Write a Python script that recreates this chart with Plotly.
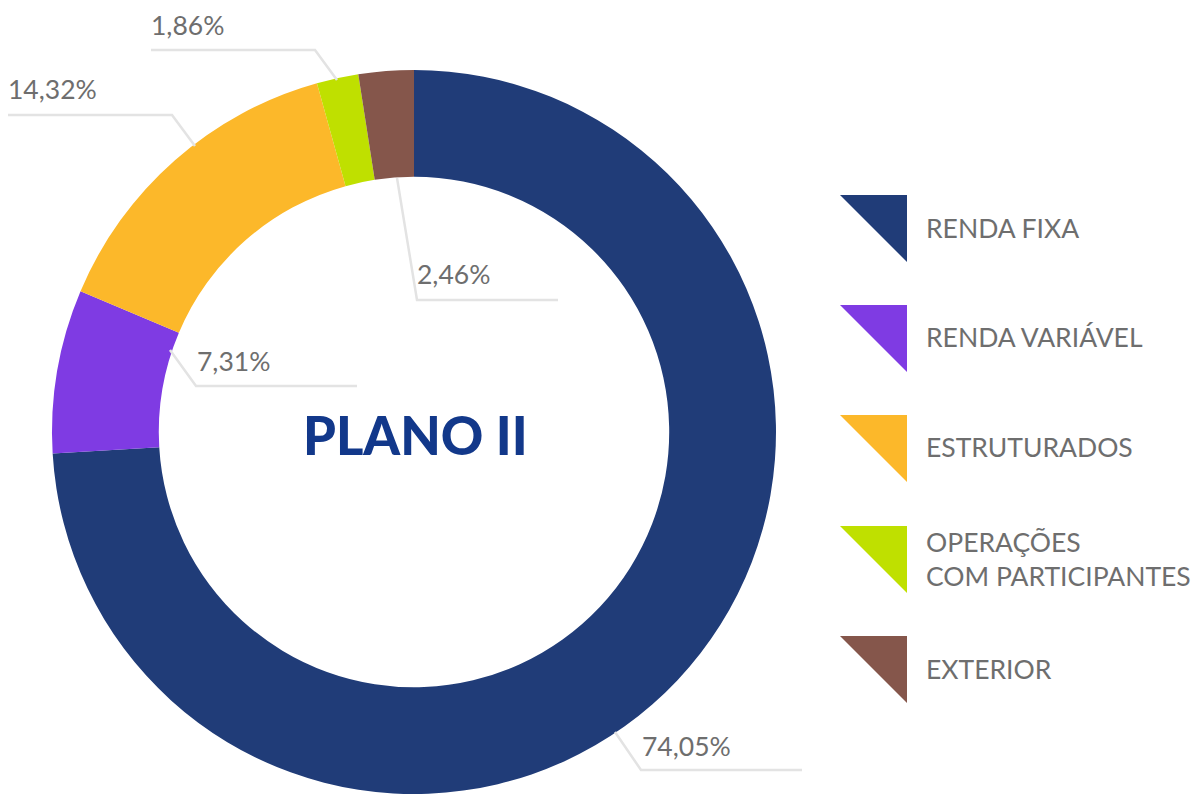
import plotly.graph_objects as go

W, H = 1201, 794

# ---- data ----
categories = ["RENDA FIXA", "RENDA VARIÁVEL", "ESTRUTURADOS", "OPERAÇÕES<br>COM PARTICIPANTES", "EXTERIOR"]
values = [74.05, 7.31, 14.32, 1.86, 2.46]
value_labels = ["74,05%", "7,31%", "14,32%", "1,86%", "2,46%"]
colors = ["#203c78", "#7f3be3", "#fcb82a", "#bfe000", "#85564b"]
center_title = "PLANO II"

# ---- layout helpers (page pixel -> paper); page body has an 8px margin ----
OFF = 8

def px(x):
    return (x - OFF) / W

def py(y):
    return 1 - (y - OFF) / H

cx, cy, R = 414, 432, 362

fig = go.Figure()
fig.add_trace(go.Pie(
    labels=categories,
    values=values,
    hole=0.705,
    sort=False,
    direction="clockwise",
    rotation=0,
    marker=dict(colors=colors, line=dict(width=0)),
    textinfo="none",
    hoverinfo="label+percent",
    showlegend=False,
    domain=dict(x=[px(cx - R), px(cx + R)], y=[py(cy + R), py(cy - R)]),
))

label_font = dict(family="Lato, 'Open Sans', sans-serif", size=26.5, color="#6e6e6e")
line_style = dict(color="#e3e3e3", width=2.5)

# leader lines (pixel paths) and label positions, in the order of values
leaders = [
    [(615, 732), (641, 770), (802, 770)],
    [(170, 350), (196, 386), (357, 386)],
    [(195, 146), (172, 115), (8, 115)],
    [(337, 80), (315, 50), (151, 50)],
    [(397, 178), (417, 300), (558, 300)],
]
label_pos = [(640, 746), (195, 361), (6, 89), (149, 25), (415, 274)]

shapes = []
annotations = []
for pts, (lx, ly), txt in zip(leaders, label_pos, value_labels):
    path = "M " + " L ".join(f"{px(x)},{py(y)}" for x, y in pts)
    shapes.append(dict(type="path", path=path, xref="paper", yref="paper",
                       line=line_style, layer="above"))
    annotations.append(dict(text=txt, x=px(lx), y=py(ly), xref="paper", yref="paper",
                            xanchor="left", yanchor="middle", showarrow=False,
                            font=label_font))

# custom legend with triangle swatches
leg_x0, leg_size = 840, 67
leg_tops = [195, 305, 415, 526, 636]
for top, col, cat in zip(leg_tops, colors, categories):
    path = (f"M {px(leg_x0)},{py(top)} L {px(leg_x0 + leg_size)},{py(top)} "
            f"L {px(leg_x0 + leg_size)},{py(top + leg_size)} Z")
    shapes.append(dict(type="path", path=path, xref="paper", yref="paper",
                       fillcolor=col, line=dict(width=0)))
    annotations.append(dict(text=cat, x=px(924), y=py(top + leg_size / 2 - 1),
                            xref="paper", yref="paper", xanchor="left", yanchor="middle",
                            align="left", showarrow=False, font=label_font))

annotations.append(dict(text=center_title, x=px(415), y=py(435), xref="paper", yref="paper",
                        xanchor="center", yanchor="middle", showarrow=False,
                        font=dict(family="Lato, 'Open Sans', sans-serif", size=52.5,
                                  color="#12388a", weight=900)))

fig.update_layout(
    width=W, height=H,
    margin=dict(l=0, r=0, t=0, b=0),
    paper_bgcolor="white", plot_bgcolor="white",
    shapes=shapes, annotations=annotations,
)

fig.write_html("out.html")
